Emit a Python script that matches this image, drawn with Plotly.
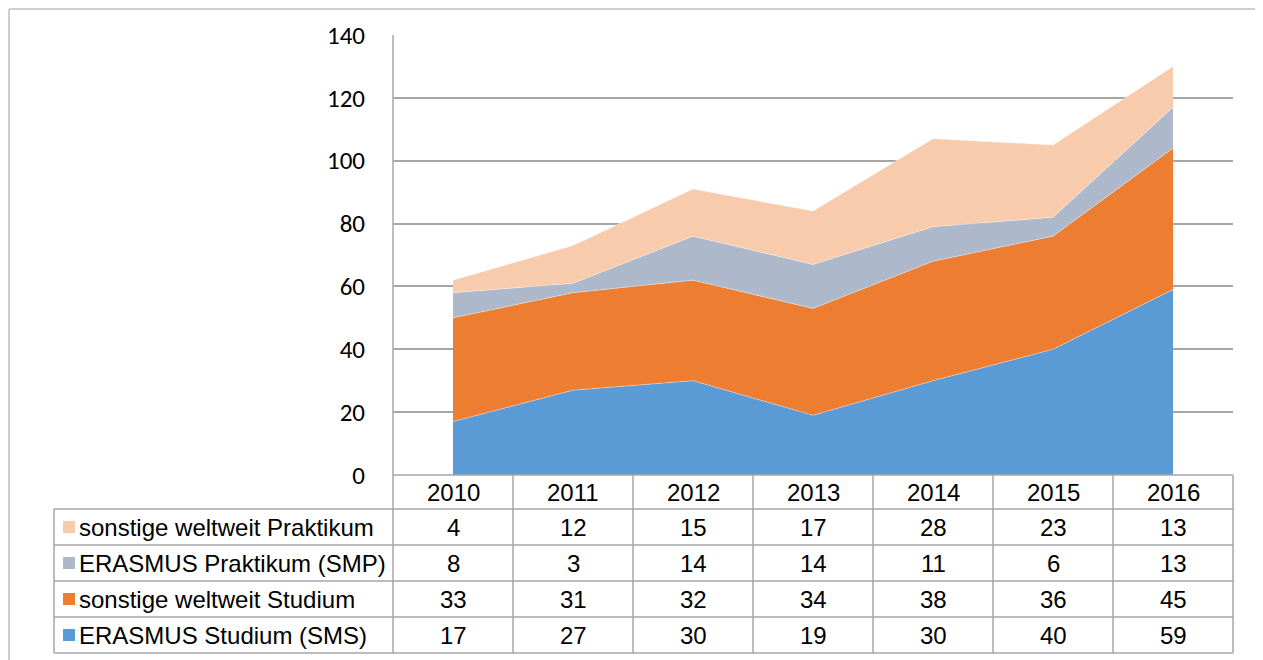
import plotly.graph_objects as go

years = ["2010", "2011", "2012", "2013", "2014", "2015", "2016"]
erasmus_studium = [17, 27, 30, 19, 30, 40, 59]
sonstige_studium = [33, 31, 32, 34, 38, 36, 45]
erasmus_praktikum = [8, 3, 14, 14, 11, 6, 13]
sonstige_praktikum = [4, 12, 15, 17, 28, 23, 13]

series_names = ["ERASMUS Studium (SMS)", "sonstige weltweit Studium",
                "ERASMUS Praktikum (SMP)", "sonstige weltweit Praktikum"]
series_values = [erasmus_studium, sonstige_studium, erasmus_praktikum, sonstige_praktikum]
series_colors = ["#5b9bd5", "#ed7d31", "#adb9ca", "#f8cbad"]

OFF = 8  # page offset of the figure
W, H = 1263 - OFF, 660 - OFF
L, R, T, B = 393 - OFF, 1233 - OFF, 35 - OFF, 475 - OFF
legend_left = 54 - OFF
header_h = 34
row_h = 36
grid_col = "#a6a6a6"
font_table = "Liberation Sans, Arial, sans-serif"
fs = 24

fig = go.Figure()
for name, vals, col in zip(series_names, series_values, series_colors):
    fig.add_trace(go.Scatter(
        x=years, y=vals, name=name, mode="lines", stackgroup="one",
        line=dict(width=0.6, color="rgba(255,255,255,0.6)"),
        fillcolor=col, showlegend=False, hoverinfo="x+y+name"))

def px_x(p):
    return (p - L) / (R - L)

def px_y(p):
    return (B - p) / (B - T)

shapes = []
annotations = []
frame = dict(color="#bfbfbf", width=1.5)
shapes.append(dict(type="line", xref="paper", yref="paper",
                   x0=px_x(1), x1=px_x(W + 20), y0=px_y(1), y1=px_y(1), line=frame))
shapes.append(dict(type="line", xref="paper", yref="paper",
                   x0=px_x(1), x1=px_x(1), y0=px_y(1), y1=px_y(H + 20), line=frame))

ncol = len(years)
colw = (R - L) / ncol
tbl_top = B
rows_top = B + header_h
tbl_bottom = rows_top + row_h * len(series_names)

line_style = dict(color=grid_col, width=1.5)
shapes.append(dict(type="line", xref="paper", yref="paper", x0=px_x(L), x1=px_x(R),
                   y0=px_y(tbl_top), y1=px_y(tbl_top), line=line_style))
for i in range(len(series_names) + 1):
    yy = rows_top + i * row_h
    shapes.append(dict(type="line", xref="paper", yref="paper", x0=px_x(legend_left), x1=px_x(R),
                       y0=px_y(yy), y1=px_y(yy), line=line_style))
shapes.append(dict(type="line", xref="paper", yref="paper", x0=px_x(legend_left), x1=px_x(legend_left),
                   y0=px_y(rows_top), y1=px_y(tbl_bottom), line=line_style))
for j in range(ncol + 1):
    xx = L + j * colw
    y_start = T if j == 0 else tbl_top
    shapes.append(dict(type="line", xref="paper", yref="paper", x0=px_x(xx), x1=px_x(xx),
                       y0=px_y(y_start), y1=px_y(tbl_bottom), line=line_style))

for j, yr in enumerate(years):
    annotations.append(dict(xref="paper", yref="paper", x=px_x(L + (j + 0.5) * colw),
                            y=px_y(tbl_top + header_h / 2), text=yr, showarrow=False,
                            font=dict(family=font_table, size=fs, color="#000000"),
                            xanchor="center", yanchor="middle"))

for i, idx in enumerate(reversed(range(len(series_names)))):
    yc = rows_top + (i + 0.5) * row_h
    shapes.append(dict(type="rect", xref="paper", yref="paper",
                       x0=px_x(63 - OFF), x1=px_x(75 - OFF), y0=px_y(yc + 6), y1=px_y(yc - 6),
                       fillcolor=series_colors[idx], line=dict(width=0)))
    annotations.append(dict(xref="paper", yref="paper", x=px_x(77 - OFF), y=px_y(yc),
                            text=series_names[idx], showarrow=False,
                            font=dict(family=font_table, size=fs, color="#000000"),
                            xanchor="left", yanchor="middle"))
    for j, v in enumerate(series_values[idx]):
        annotations.append(dict(xref="paper", yref="paper", x=px_x(L + (j + 0.5) * colw),
                                y=px_y(yc), text=str(v), showarrow=False,
                                font=dict(family=font_table, size=fs, color="#000000"),
                                xanchor="center", yanchor="middle"))

fig.update_layout(
    width=W, height=H, autosize=False,
    margin=dict(l=L, r=W - R, t=T, b=H - B, pad=0),
    paper_bgcolor="white", plot_bgcolor="white",
    shapes=shapes, annotations=annotations,
    xaxis=dict(type="category", range=[-0.5, 6.5], showticklabels=False, showgrid=False,
               zeroline=False, showline=False, ticks=""),
    yaxis=dict(range=[0, 140], dtick=20, tick0=0, showgrid=True, gridcolor=grid_col, gridwidth=1.5,
               zeroline=False, showline=False,
               ticks="outside", ticklen=0, ticklabelstandoff=22,
               tickfont=dict(family="Carlito, Lato, sans-serif", size=25, color="#000000")),
)

fig.write_html("out.html")
